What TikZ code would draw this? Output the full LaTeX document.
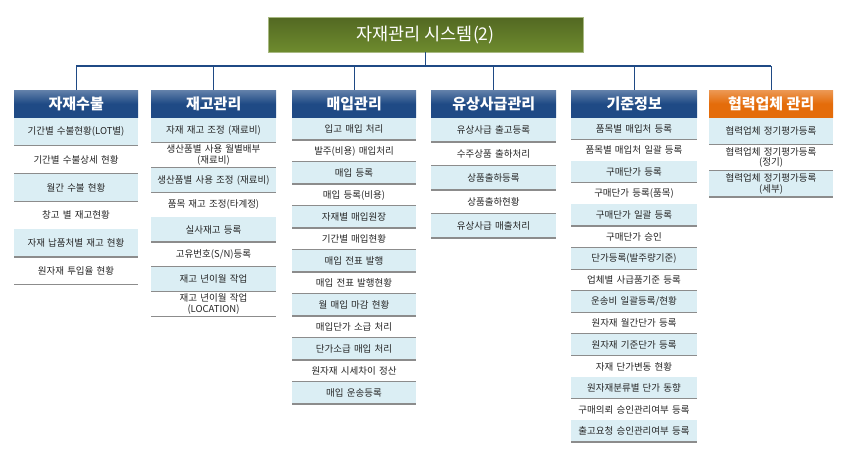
\documentclass[tikz,border=0pt]{standalone}
\usepackage{fontspec}
\setmainfont{Noto Sans CJK KR}
\begin{document}
\begin{tikzpicture}[x=1pt,y=-1pt,
  hdr/.style={draw=none,top color=#1!70!white,bottom color=#1,middle color=#1,minimum height=27pt,text=white,font=\fontsize{15}{17}\selectfont\bfseries,inner sep=0pt},
  item/.style={inner sep=0pt,align=center,font=\fontsize{9.5}{10.5}\selectfont,text=black!85}]
\useasboundingbox (0,0) rectangle (850,456);
\fill[white] (0,0) rectangle (850,456);
\definecolor{hb}{HTML}{1F4A85}
\definecolor{ho}{HTML}{E46C0A}
\definecolor{lb}{HTML}{DBEEF4}
\definecolor{gr}{HTML}{6E8B2E}
\node[draw=gr!60!white,top color=gr!75!black,bottom color=gr,minimum width=315pt,minimum height=35pt,text=white,font=\fontsize{17.5}{19}\selectfont,inner sep=0pt] (t) at (425.5,34.5) {자재관리 시스템(2)};
% columns: #1 index, #2 left, #3 width, #4 row height, #5 color, #6 title, #7 items
\newcommand\mycol[7]{%
  \node[hdr=#5,minimum width=#3pt,anchor=north west] (hd#1) at (#2,90) {#6};
  \foreach \s [count=\i] in {#7} {
    \pgfmathsetmacro\ya{118+(\i-1)*#4}
    \pgfmathsetmacro\yb{118+\i*#4}
    \pgfmathsetmacro\yc{118+(\i-0.5)*#4}
    \ifodd\i \fill[lb] (#2,\ya) rectangle ++(#3,#4);\fi
    \draw[black!45,line width=1.3pt] (#2,\yb) -- ++(#3,0);
    \node[item,text width=#3pt-4pt] (c#1r\i) at (#2+#3/2,\yc) {\s};
  }}
\mycol{1}{14}{124}{27.8}{hb}{자재수불}{기간별 수불현황(LOT별),기간별 수불상세 현황,월간 수불 현황,창고 별 재고현황,자재 납품처별 재고 현황,원자재 투입율 현황}
\mycol{2}{151}{125}{24.8}{hb}{재고관리}{자재 재고 조정 (재료비),생산품별 사용 월별배부\\(재료비),생산품별 사용 조정 (재료비),품목 재고 조정(타계정),실사재고 등록,고유번호(S/N)등록,재고 년이월 작업,재고 년이월 작업\\(LOCATION)}
\mycol{3}{292}{124}{22}{hb}{매입관리}{입고 매입 처리,발주(비용) 매입처리,매입 등록,매입 등록(비용),자재별 매입원장,기간별 매입현황,매입 전표 발행,매입 전표 발행현황,월 매입 마감 현황,매입단가 소급 처리,단가소급 매입 처리,원자재 시세차이 정산,매입 운송등록}
\mycol{4}{431}{125}{24}{hb}{유상사급관리}{유상사급 출고등록,수주상품 출하처리,상품출하등록,상품출하현황,유상사급 매출처리}
\mycol{5}{571}{126}{21.6}{hb}{기준정보}{품목별 매입처 등록,품목별 매입처 일괄 등록,구매단가 등록,구매단가 등록(품목),구매단가 일괄 등록,구매단가 승인,단가등록(발주량기준),업체별 사급품기준 등록,운송비 일괄등록/현황,원자재 월간단가 등록,원자재 기준단가 등록,자재 단가변동 현황,원자재분류별 단가 동향,구매의뢰 승인관리여부 등록,출고요청 승인관리여부 등록}
\mycol{6}{709}{124}{26.3}{ho}{협력업체 관리}{협력업체 정기평가등록,협력업체 정기평가등록\\(정기),협력업체 정기평가등록\\(세부)}
\coordinate (bus) at (0,66);
\draw[hb,line width=1.3pt] (t.south) -- (t.south|-bus);
\draw[hb,line width=1.3pt] (hd1.north|-bus) -- (hd6.north|-bus);
\foreach \k in {1,...,6} \draw[hb,line width=1.3pt] (hd\k.north|-bus) -- (hd\k.north);
\end{tikzpicture}
\end{document}
